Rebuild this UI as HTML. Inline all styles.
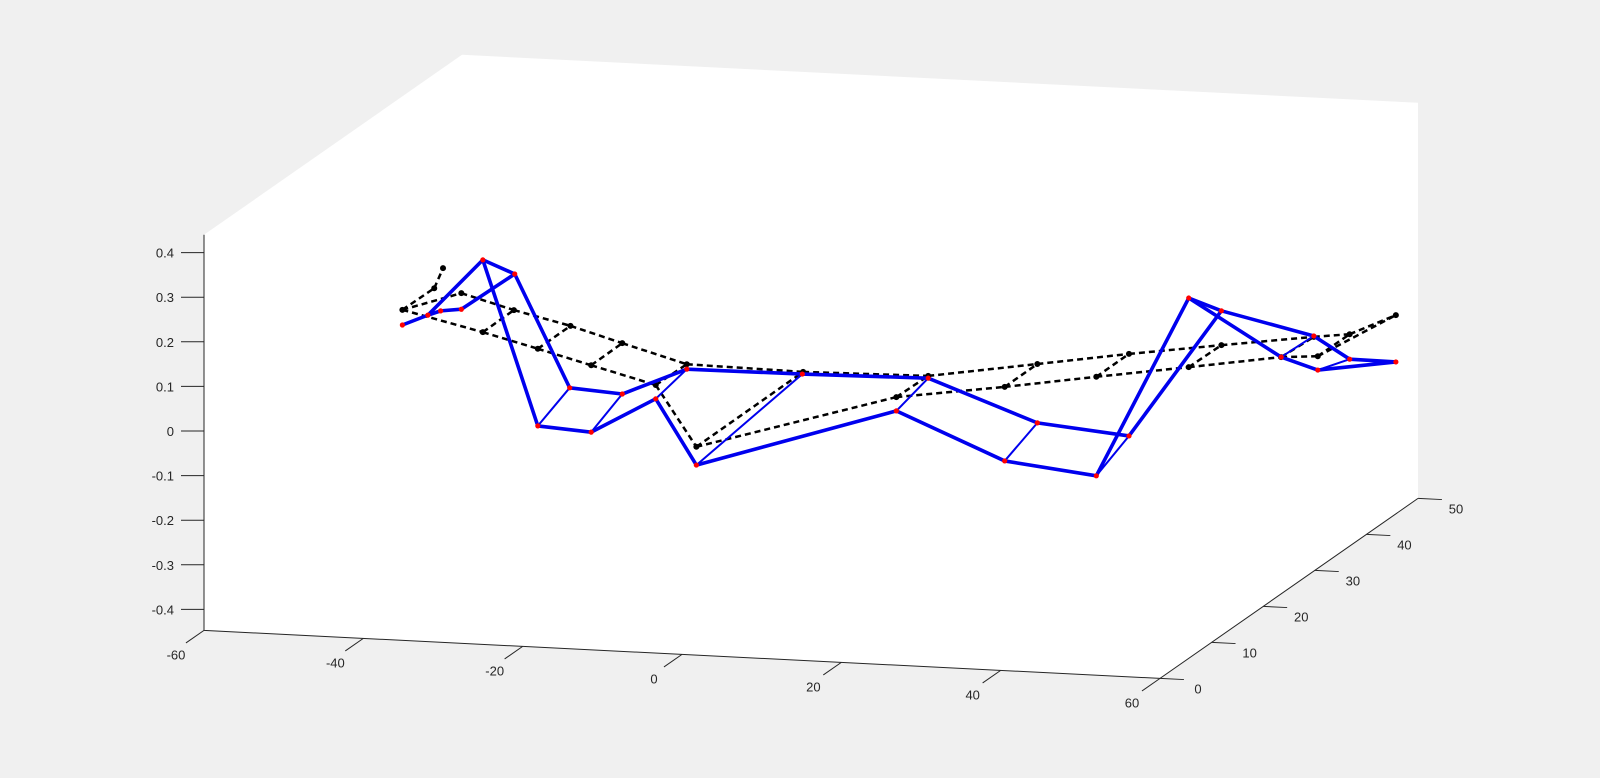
<!DOCTYPE html>
<html><head><meta charset="utf-8">
<style>
html,body{margin:0;padding:0;background:#f0f0f0;}
svg{display:block;font-family:"Liberation Sans","DejaVu Sans",sans-serif;}
</style></head>
<body>
<svg id="chart" width="1600" height="778" viewBox="0 0 1600 778" xmlns="http://www.w3.org/2000/svg">
<rect width="1600" height="778" fill="#f0f0f0"/>
</svg>
<script>
// Deformed structure nodes (blue)
const defX = [-35.1,-31.9,-30.3,-27.7,-25.0,-21.0,-18.1,-14.1,-11.4,-7.5,-3.3,0.6,1.8,15.1,26.9,30.9,40.5,44.6,52.0,56.1,63.6,67.7,75.2,79.3,79.8,83.8,89.6];
const defY = [0,0,0,0,0,0,0,0,0,0,0,0,0,0,0,0,0,0,0,0,0,0,0,0,0,0,0];
const defZ = [0.26,0.285,0.296,0.302,0.415,0.387,0.049,0.138,0.041,0.130,0.123,0.193,-0.021,0.195,0.123,0.200,0.023,0.112,0.000,0.093,0.409,0.384,0.287,0.338,0.262,0.290,0.289];
const thickEdges = [[0,1],[1,4],[1,2],[2,3],[3,5],[4,5],[4,6],[5,7],[6,8],[7,9],[8,10],[9,11],[10,12],[11,13],[12,14],[13,15],[14,16],[15,17],[16,18],[17,19],[18,20],[19,21],[20,21],[20,22],[21,23],[22,24],[23,25],[24,26],[25,26]];
const thinEdges = [[6,7],[8,9],[10,11],[12,13],[14,15],[16,17],[18,19],[22,23],[24,25]];
// Reference (undeformed) nodes (black dashed)
const refX = [-35.1,-30.0,-31.1,-27.7,-25.0,-21.1,-18.1,-14.0,-11.4,-7.5,-3.3,0.6,1.8,15.2,26.9,30.9,40.5,44.6,52.0,56.1,63.6,67.7,75.2,79.3,79.8,83.8,89.6];
const refY = [0,0,0,0,0,0,0,0,0,0,0,0,0,0,0,0,0,0,0,0,0,0,0,0,0,0,0];
const refZ = [0.294,0.392,0.346,0.338,0.253,0.306,0.222,0.277,0.191,0.244,0.154,0.204,0.020,0.200,0.154,0.205,0.189,0.244,0.222,0.277,0.254,0.307,0.287,0.336,0.293,0.346,0.394];
const refEdges = [[0,2],[2,1],[0,3],[3,5],[0,4],[4,5],[4,6],[6,8],[8,10],[10,12],[12,14],[14,16],[16,18],[18,20],[20,22],[22,24],[24,26],[5,7],[7,9],[9,11],[11,13],[13,15],[15,17],[17,19],[19,21],[21,23],[23,25],[25,26],[6,7],[8,9],[10,11],[12,13],[14,15],[16,17],[18,19],[20,21],[22,23],[24,25]];
const xTicks = [-60,-40,-20,0,20,40,60];
const yTicks = [0,10,20,30,40,50];
const zTicks = [-0.4,-0.3,-0.2,-0.1,0,0.1,0.2,0.3,0.4];
const zTickLabels = ["-0.4","-0.3","-0.2","-0.1","0","0.1","0.2","0.3","0.4"];

const NS="http://www.w3.org/2000/svg";
const svg=document.getElementById('chart');
function px(x,y,z){return 204+(x+60)*7.967+y*5.16;}
function py(x,y,z){return 431+(x+60)*0.4-y*3.6-z*446;}
function mk(tag,attrs,parent){const e=document.createElementNS(NS,tag);for(const k in attrs)e.setAttribute(k,attrs[k]);(parent||svg).appendChild(e);return e;}
const ZB=-0.447, ZT=0.44;
function P(x,y,z){return px(x,y,z).toFixed(1)+','+py(x,y,z).toFixed(1);}

const box=mk('polygon',{points:[P(-60,0,ZT),P(-60,50,ZT),P(60,50,ZT),P(60,50,ZB),P(60,0,ZB),P(-60,0,ZB)].join(' '),fill:'#fff'});



const axesG=mk('g',{stroke:'#262626','stroke-width':1,fill:'none'});


mk('polyline',{points:[P(-60,0,ZT),P(-60,0,ZB),P(60,0,ZB),P(60,50,ZB)].join(' ')},axesG);

const ticksG=mk('g',{fill:'#262626','font-size':13});


xTicks.forEach(v=>{
  mk('line',{x1:px(v,0,ZB),y1:py(v,0,ZB),x2:px(v,-3.5,ZB),y2:py(v,-3.5,ZB),stroke:'#262626'},axesG);
  const t=mk('text',{x:px(v,0,ZB)-28,y:py(v,0,ZB)+29,'text-anchor':'middle'},ticksG);t.textContent=v;
  
  
});
yTicks.forEach(v=>{
  mk('line',{x1:px(60,v,ZB),y1:py(60,v,ZB),x2:px(63,v,ZB),y2:py(63,v,ZB),stroke:'#262626'},axesG);
  const t=mk('text',{x:px(60,v,ZB)+38,y:py(60,v,ZB)+15,'text-anchor':'middle'},ticksG);t.textContent=v;
  
  
});
zTicks.forEach((v,i)=>{
  const y=py(-60,0,v);
  mk('line',{x1:181,y1:y,x2:204,y2:y,stroke:'#262626'},axesG);
  const t=mk('text',{x:174,y:y+5,'text-anchor':'end'},ticksG);t.textContent=zTickLabels[i];
  
  
});

const refG=mk('g',{stroke:'#000','stroke-width':2.5,'stroke-dasharray':'6,4',fill:'none'});


refEdges.forEach(([a,b])=>{
  const l=mk('line',{x1:px(refX[a],refY[a],refZ[a]),y1:py(refX[a],refY[a],refZ[a]),x2:px(refX[b],refY[b],refZ[b]),y2:py(refX[b],refY[b],refZ[b])},refG);
  
  
});
refX.forEach((x,i)=>{
  const c=mk('circle',{cx:px(x,refY[i],refZ[i]),cy:py(x,refY[i],refZ[i]),r:3,fill:'#000'});
  
  
});

const defG=mk('g',{stroke:'#0000ee',fill:'none','stroke-linecap':'round'});


function edge(a,b,w,name){
  const l=mk('line',{x1:px(defX[a],defY[a],defZ[a]),y1:py(defX[a],defY[a],defZ[a]),x2:px(defX[b],defY[b],defZ[b]),y2:py(defX[b],defY[b],defZ[b]),'stroke-width':w},defG);
  
  
}
thinEdges.forEach(([a,b])=>edge(a,b,2,'deformed-rung'));
thickEdges.forEach(([a,b])=>edge(a,b,3.6,'deformed-chord'));
defX.forEach((x,i)=>{
  const c=mk('circle',{cx:px(x,defY[i],defZ[i]),cy:py(x,defY[i],defZ[i]),r:2.6,fill:'#ff0000'});
  
  
});
</script>
</body></html>
